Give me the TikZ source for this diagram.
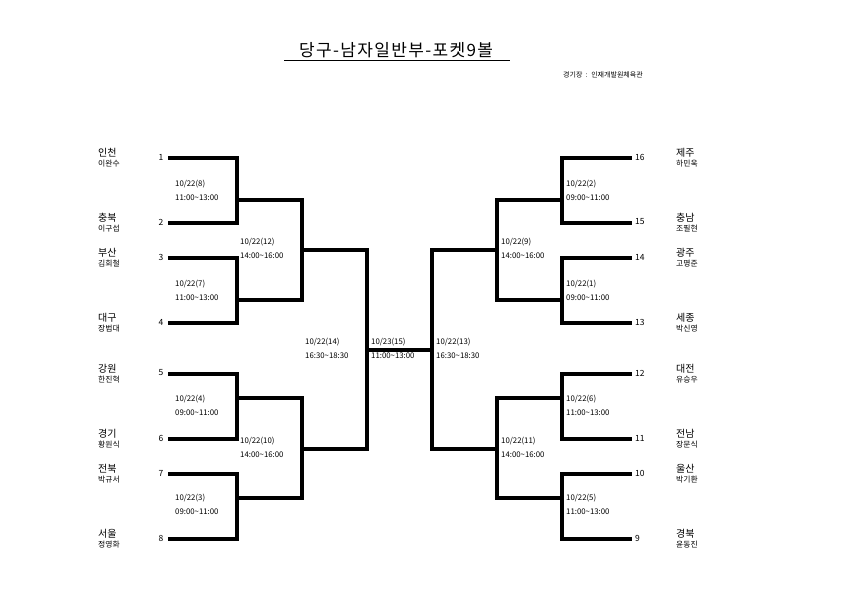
\documentclass[tikz,border=0pt]{standalone}
\usepackage{fontspec}
\setmainfont{Noto Sans CJK KR}
\newfontfamily\titlefont[LetterSpace=8]{Noto Sans CJK KR}

\begin{document}
\begin{tikzpicture}[x=1pt,y=-1pt,line cap=rect,line join=miter,every node/.style={inner sep=0pt}]
  \tikzset{
    bracket/.style={line width=3.6pt},
    seatno/.style={font=\fontsize{8.5}{9}\selectfont},
    region/.style={anchor=west,font=\fontsize{10}{11}\selectfont},
    player/.style={anchor=west,font=\fontsize{7.8}{8}\selectfont},
    game/.style={anchor=west,font=\fontsize{7.8}{8}\selectfont}
  }
  \useasboundingbox (0,0) rectangle (842,595);

  % 제목
  \node[font=\titlefont\fontsize{17}{19}\selectfont] (title) at (396,50) {당구-남자일반부-포켓9볼};
  \draw[line width=0.9pt,line cap=butt] (284,60) -- (510,60);
  \node[anchor=west,font=\fontsize{7}{8}\selectfont] (venue) at (563,75) {경기장 \ : \ 인재개발원체육관};

  % 왼쪽 1회전
  \foreach \a/\b/\o in {158/223/200,258/323/300,374/439/398,474/539/498} {
    \draw[bracket] (170,\a) -| (237,\b) -- (170,\b);
    \draw[bracket] (237,\o) -- (302,\o);
  }
  % 오른쪽 1회전
  \foreach \a/\b/\o in {158/223/200,258/323/300,374/439/398,474/539/498} {
    \draw[bracket] (630,\a) -| (562,\b) -- (630,\b);
    \draw[bracket] (562,\o) -- (497,\o);
  }
  % 2회전
  \draw[bracket] (302,200) -- (302,300);
  \draw[bracket] (302,398) -- (302,498);
  \draw[bracket] (302,250) -- (367,250);
  \draw[bracket] (302,449) -- (367,449);
  \draw[bracket] (497,200) -- (497,300);
  \draw[bracket] (497,398) -- (497,498);
  \draw[bracket] (497,250) -- (432,250);
  \draw[bracket] (497,449) -- (432,449);
  % 준결승, 결승
  \draw[bracket] (367,250) -- (367,449);
  \draw[bracket] (432,250) -- (432,449);
  \draw[bracket] (367,350) -- (432,350);

  % 선수
  \foreach \n/\y/\r/\p in {1/158/인천/이완수,2/223/충북/이구섭,3/258/부산/김회철,4/323/대구/장범대,
                          5/374/강원/한진혁,6/439/경기/황원식,7/474/전북/박규서,8/539/서울/정영화} {
    \node[seatno] at (161,\y-1) {\n};
    \node[region] at (98,\y-5) {\r};
    \node[player] at (98,\y+6) {\p};
  }
  \foreach \n/\y/\r/\p in {16/158/제주/하민욱,15/223/충남/조필현,14/258/광주/고명준,13/323/세종/박신영,
                          12/374/대전/유승우,11/439/전남/장문식,10/474/울산/박기환,9/539/경북/윤동진} {
    \node[seatno,anchor=west] at (635,\y-1) {\n};
    \node[region] at (676,\y-5) {\r};
    \node[player] at (676,\y+6) {\p};
  }

  % 경기 일정
  \foreach \x/\y/\g/\t in {175/184/{10/22(8)}/{11:00\textasciitilde 13:00},
                           175/284/{10/22(7)}/{11:00\textasciitilde 13:00},
                           175/399/{10/22(4)}/{09:00\textasciitilde 11:00},
                           175/498/{10/22(3)}/{09:00\textasciitilde 11:00},
                           240/242/{10/22(12)}/{14:00\textasciitilde 16:00},
                           240/441/{10/22(10)}/{14:00\textasciitilde 16:00},
                           305/342/{10/22(14)}/{16:30\textasciitilde 18:30},
                           371/342/{10/23(15)}/{11:00\textasciitilde 13:00},
                           436/342/{10/22(13)}/{16:30\textasciitilde 18:30},
                           501/242/{10/22(9)}/{14:00\textasciitilde 16:00},
                           501/441/{10/22(11)}/{14:00\textasciitilde 16:00},
                           566/184/{10/22(2)}/{09:00\textasciitilde 11:00},
                           566/284/{10/22(1)}/{09:00\textasciitilde 11:00},
                           566/399/{10/22(6)}/{11:00\textasciitilde 13:00},
                           566/498/{10/22(5)}/{11:00\textasciitilde 13:00}} {
    \node[game] at (\x,\y) {\g};
    \node[game] at (\x,\y+14) {\t};
  }
\end{tikzpicture}
\end{document}
